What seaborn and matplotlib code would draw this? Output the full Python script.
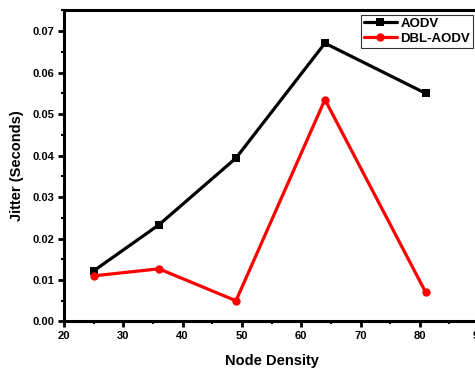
import pandas as pd
import numpy as np
import matplotlib
matplotlib.use('Agg')
import matplotlib.pyplot as plt
import seaborn as sns
from matplotlib.ticker import MultipleLocator, FormatStrFormatter

node_density = [25, 36, 49, 64, 81]
aodv = [0.0122, 0.0233, 0.0394, 0.0671, 0.0550]
dbl_aodv = [0.0110, 0.0127, 0.0050, 0.0535, 0.0070]
series_names = ['AODV', 'DBL-AODV']
series_colors = ['black', 'red']
series_markers = ['s', 'o']

sns.set_style('white')
plt.rcParams['font.family'] = ['Liberation Sans', 'DejaVu Sans']
plt.rcParams['font.weight'] = 'bold'
plt.rcParams['text.color'] = 'black'
plt.rcParams['axes.labelcolor'] = 'black'
plt.rcParams['xtick.color'] = 'black'
plt.rcParams['ytick.color'] = 'black'

df = pd.DataFrame({
    'Node Density': node_density * 2,
    'Jitter': aodv + dbl_aodv,
    'Protocol': [series_names[0]] * 5 + [series_names[1]] * 5,
})

fig = plt.figure(figsize=(4.75, 3.68), dpi=100)
ax = fig.add_axes([0.1347, 0.1264, 0.874, 0.8464])

sns.lineplot(data=df, x='Node Density', y='Jitter', hue='Protocol', style='Protocol',
             palette=series_colors, markers=series_markers, dashes=False,
             linewidth=2.3, markersize=6, markeredgewidth=0, ax=ax)

ax.set_xlim(20, 90)
ax.set_ylim(0, 0.0751)
ax.xaxis.set_major_locator(MultipleLocator(10))
ax.xaxis.set_minor_locator(MultipleLocator(5))
ax.yaxis.set_major_locator(MultipleLocator(0.01))
ax.yaxis.set_minor_locator(MultipleLocator(0.005))
ax.yaxis.set_major_formatter(FormatStrFormatter('%.2f'))

for s in ax.spines.values():
    s.set_linewidth(2.2)
    s.set_color('black')

ax.tick_params(which='major', direction='out', length=4, width=2, labelsize=8,
               bottom=True, left=True, top=False, right=False, pad=3,
               colors='black')
ax.tick_params(which='minor', direction='out', length=2, width=1.5,
               bottom=True, left=True, top=False, right=False, colors='black')
for lab in ax.get_xticklabels() + ax.get_yticklabels():
    lab.set_fontweight('bold')

ax.set_xlabel('Node Density', fontsize=10.5, fontweight='bold', labelpad=9, color='black')
ax.set_ylabel('Jitter (Seconds)', fontsize=10.5, fontweight='bold', labelpad=6, color='black')

leg = ax.legend(loc='upper right', bbox_to_anchor=(0.985, 0.985), frameon=True, fancybox=False,
                edgecolor='black', fontsize=9.5, handlelength=2.5, borderpad=0.2,
                labelspacing=0.25, handletextpad=0.3, borderaxespad=0)
leg.get_frame().set_linewidth(0.8)
for t in leg.get_texts():
    t.set_fontweight('bold')
    t.set_color('black')

fig.savefig('out.png', dpi=100)
